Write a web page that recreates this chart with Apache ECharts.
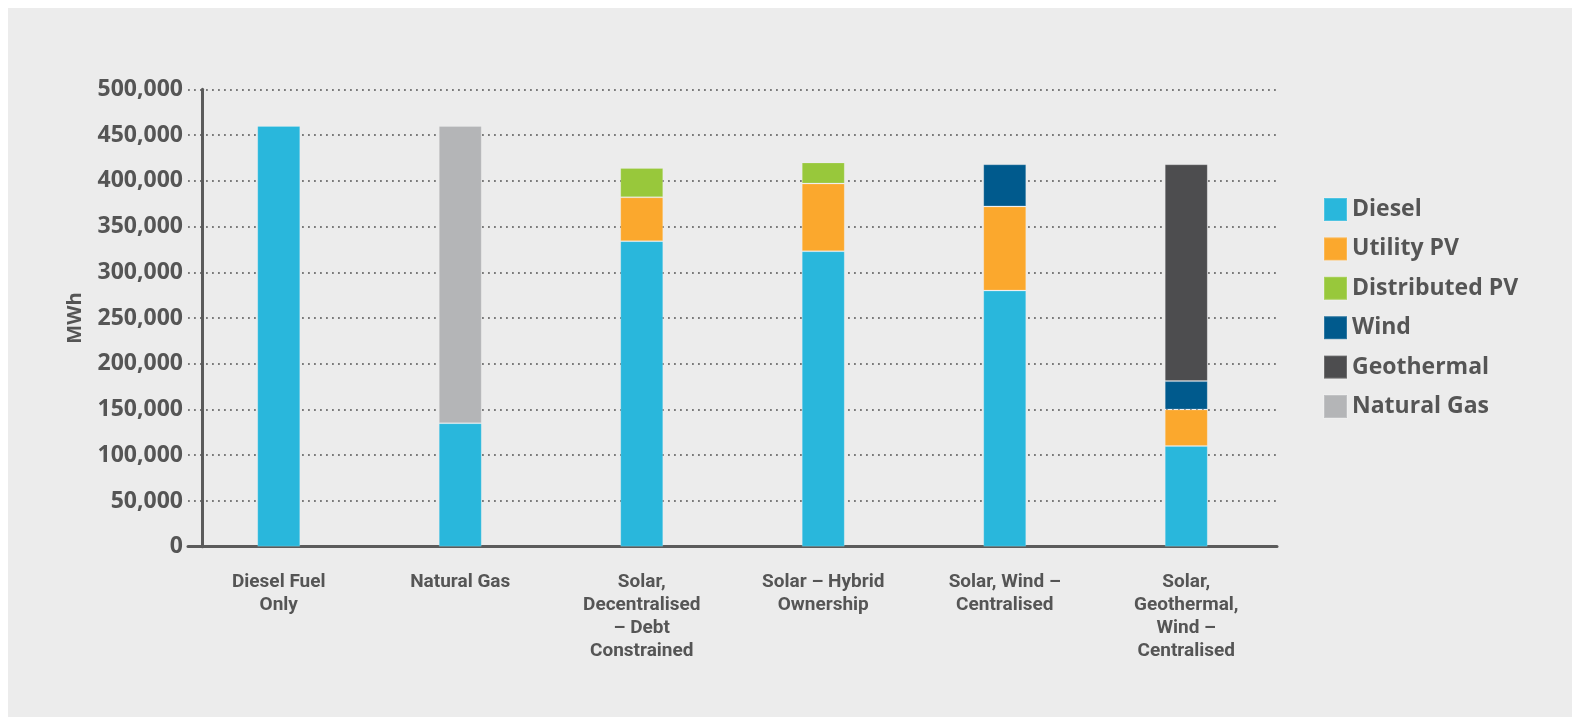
<!DOCTYPE html>
<html>
<head>
<meta charset="utf-8">
<script src="https://cdn.jsdelivr.net/npm/echarts@6/dist/echarts.min.js"></script>
<style>
  html, body { margin: 0; padding: 0; background: #ffffff; }
  #panel { position: absolute; left: 8px; top: 8px; width: 1564px; height: 709px; background: #ececec; }
  #chart { position: absolute; left: 0; top: 0; width: 1576px; height: 717px; }
</style>
</head>
<body>
<div id="panel"></div>
<div id="chart"></div>
<script>
const categories = [
  'Diesel Fuel\nOnly',
  'Natural Gas',
  'Solar,\nDecentralised\n\u2013 Debt\nConstrained',
  'Solar \u2013 Hybrid\nOwnership',
  'Solar, Wind \u2013\nCentralised',
  'Solar,\nGeothermal,\nWind \u2013\nCentralised'
];
const seriesNames = ['Diesel', 'Utility PV', 'Distributed PV', 'Wind', 'Geothermal', 'Natural Gas'];
const diesel        = [460000, 135000, 334000, 323000, 280000, 110000];
const utilityPV     = [0, 0, 48000, 74000, 92000, 40000];
const distributedPV = [0, 0, 32000, 23000, 0, 0];
const wind          = [0, 0, 0, 0, 46000, 31000];
const geothermal    = [0, 0, 0, 0, 0, 237000];
const naturalGas    = [0, 325000, 0, 0, 0, 0];
const yTicks = [0, 50000, 100000, 150000, 200000, 250000, 300000, 350000, 400000, 450000, 500000];

const colors = ['#29b7dc', '#fba82d', '#98c83b', '#005a8d', '#4d4d4f', '#b4b5b7'];
const valuesList = [diesel, utilityPV, distributedPV, wind, geothermal, naturalGas];

const textColor = '#555555';
const mainFont = "'Open Sans', 'Liberation Sans', sans-serif";
const narrowFont = "Roboto, 'Liberation Sans', sans-serif";

const series = seriesNames.map((name, i) => ({
  name: name,
  type: 'bar',
  stack: 'total',
  yAxisIndex: 0,
  barWidth: 43,
  data: valuesList[i].map(v => v === 0 ? null : v),
  itemStyle: { color: colors[i], borderColor: 'rgba(255,255,255,0.18)', borderWidth: 1 },
  emphasis: { disabled: true }
}));

const chart = echarts.init(document.getElementById('chart'), null, { renderer: 'canvas' });
chart.setOption({
  backgroundColor: 'transparent',
  animation: false,
  grid: { left: 188, right: 299, top: 89.3, bottom: 170.3 },
  legend: {
    orient: 'vertical',
    left: 1323,
    top: 197,
    padding: 0,
    itemWidth: 23,
    itemHeight: 23,
    itemGap: 14.4,
    icon: 'rect',
    data: seriesNames,
    textStyle: { color: textColor, fontSize: 23, lineHeight: 23, fontWeight: 'bold', fontFamily: mainFont },
    selectedMode: false
  },
  xAxis: {
    type: 'category',
    data: categories,
    axisLine: { onZero: false, lineStyle: { color: '#5b5b5b', width: 3 } },
    axisTick: { show: false },
    axisLabel: {
      interval: 0,
      margin: 24,
      color: textColor,
      fontSize: 19,
      fontWeight: 'bold',
      fontFamily: narrowFont,
      lineHeight: 23,
      align: 'center'
    }
  },
  yAxis: [
    {
      type: 'value',
      min: yTicks[0],
      max: yTicks[yTicks.length - 1],
      interval: yTicks[1] - yTicks[0],
      offset: -14,
      name: 'MWh',
      nameLocation: 'middle',
      nameGap: 117,
      nameTextStyle: { color: textColor, fontSize: 20, fontWeight: 'bold', fontFamily: mainFont },
      axisLine: { show: false },
      axisTick: { show: false },
      axisLabel: {
        margin: 19,
        color: textColor,
        fontSize: 23,
        fontWeight: 'bold',
        fontFamily: mainFont,
        formatter: v => v.toLocaleString('en-US')
      },
      splitLine: { show: true, lineStyle: { color: '#7a7a7a', width: 1.8, type: [1.8, 4.2] } }
    },
    {
      type: 'value',
      min: -12000,
      max: 512400,
      offset: -14,
      position: 'left',
      axisLine: { show: true, lineStyle: { color: '#5b5b5b', width: 3 } },
      axisTick: { show: false },
      axisLabel: { show: false },
      splitLine: { show: false }
    }
  ],
  series: series
});
</script>
</body>
</html>
